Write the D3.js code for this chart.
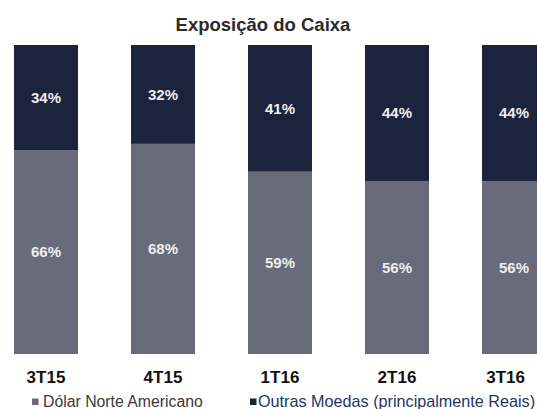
<!DOCTYPE html>
<html>
<head>
<meta charset="utf-8">
<script src="https://cdn.jsdelivr.net/npm/d3@7"></script>
<style>
  html, body { margin: 0; padding: 0; background: #ffffff; }
  svg { display: block; }
</style>
</head>
<body>
<svg id="chart" width="537" height="409"></svg>
<script>
const categories = ["3T15", "4T15", "1T16", "2T16", "3T16"];
const dolar = [66, 68, 59, 56, 56];
const outras = [34, 32, 41, 44, 44];
const seriesNames = ["Dólar Norte Americano", "Outras Moedas (principalmente Reais)"];
const title = "Exposição do Caixa";

const W = 537, H = 409;
const colors = ["#686b7a", "#1c233d"];
const font = "'Liberation Sans', Arial, Helvetica, sans-serif";

const svg = d3.select("#chart");

const x = d3.scaleBand()
  .domain(categories)
  .range([14, 14 + 117 * (5 - 0.453)])
  .paddingInner(0.453)
  .paddingOuter(0);

const y = d3.scaleLinear().domain([0, 100]).range([354, 45]);

const rows = categories.map((c, i) => ({ cat: c, d: dolar[i], o: outras[i] }));
const stack = d3.stack().keys(["d", "o"])(rows);

const g = svg.append("g");
stack.forEach((layer, li) => {
  g.selectAll(null).data(layer).enter().append("rect")
    .attr("x", d => x(d.data.cat))
    .attr("y", d => y(d[1]))
    .attr("width", x.bandwidth())
    .attr("height", d => y(d[0]) - y(d[1]))
    .attr("fill", colors[li]);
  g.selectAll(null).data(layer).enter().append("text")
    .attr("x", d => x(d.data.cat) + x.bandwidth() / 2)
    .attr("y", d => (y(d[0]) + y(d[1])) / 2)
    .attr("dy", "0.36em")
    .attr("text-anchor", "middle")
    .attr("font-family", font)
    .attr("font-weight", "bold")
    .attr("font-size", "15px")
    .attr("fill", "#eeeeee")
    .text(d => (d[1] - d[0]) + "%");
});

// category axis labels
const axis = d3.axisBottom(x).tickSize(0).tickPadding(0);
const ax = svg.append("g").attr("transform", "translate(0,354)").call(axis);
ax.select(".domain").remove();
ax.selectAll("text")
  .attr("font-family", font)
  .attr("font-weight", "bold")
  .attr("font-size", "17px")
  .attr("fill", "#111111")
  .attr("dy", null)
  .attr("y", 29)
  .each(function () {
    const t = d3.select(this);
    const tick = this.parentNode;
    const tr = tick.getAttribute("transform");
    const cx = +tr.match(/translate\(([-\d.]+)/)[1];
    const w = this.getComputedTextLength();
    const maxRight = 528;
    if (cx + w / 2 > maxRight) t.attr("x", maxRight - w / 2 - cx - 3);
  });

// title
svg.append("text")
  .attr("x", 263).attr("y", 31)
  .attr("text-anchor", "middle")
  .attr("font-family", font)
  .attr("font-weight", "bold")
  .attr("font-size", "18.5px")
  .attr("fill", "#2b2b2b")
  .text(title);

// legend
const legendX = [32, 250];
const legendText = ["#3a3a3a", "#1f3566"];
const legendSize = ["15.8px", "16.2px"];
seriesNames.forEach((name, i) => {
  const lg = svg.append("g").attr("transform", `translate(${legendX[i]},0)`);
  lg.append("rect").attr("x", 0).attr("y", 398.5).attr("width", 6.5).attr("height", 6.5).attr("fill", colors[i]);
  lg.append("text")
    .attr("x", 11 - (i ? 3 : 0)).attr("y", 407)
    .attr("font-family", font)
    .attr("font-size", legendSize[i])
    .attr("fill", legendText[i])
    .text(name);
});
</script>
</body>
</html>
